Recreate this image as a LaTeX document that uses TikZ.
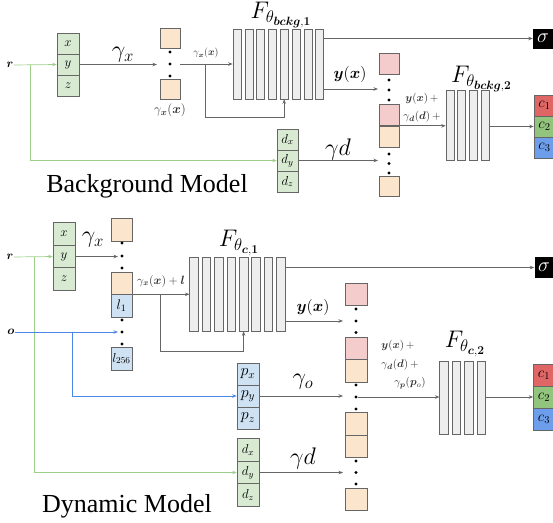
\RequirePackage{fix-cm}
\documentclass[tikz,border=0pt]{standalone}
\usepackage{amsmath}
\usepackage{bm}
\usepackage{fontspec}
\setmainfont{Liberation Serif}
\usetikzlibrary{arrows.meta}
\definecolor{lg}{HTML}{666666}
\definecolor{gfill}{HTML}{D9EAD3}
\definecolor{pfill}{HTML}{FCE5CD}
\definecolor{rfill}{HTML}{F4CCCC}
\definecolor{bfill}{HTML}{CFE2F3}
\definecolor{barfill}{HTML}{EEEEEE}
\definecolor{cred}{HTML}{E06666}
\definecolor{cgreen}{HTML}{93C47D}
\definecolor{cblue}{HTML}{6D9EEB}
\definecolor{gline}{HTML}{9CD08A}
\definecolor{bline}{HTML}{4A86E8}
\newcommand{\fsz}[1]{\fontsize{#1}{#1}\selectfont}
\tikzset{
  cell/.style={draw=lg, line width=0.6pt, inner sep=0pt, minimum width=22pt, minimum height=21pt},
  gcell/.style={cell, fill=gfill, font=\fsz{13}},
  pcell/.style={cell, fill=pfill, minimum width=20pt, minimum height=20pt},
  rcell/.style={cell, fill=rfill, minimum width=20pt, minimum height=21pt},
  bcell/.style={cell, fill=bfill, font=\fsz{14}},
  ccell/.style={cell, font=\fsz{15}, minimum width=21pt},
  bar/.style={draw=lg, line width=0.6pt, fill=barfill, inner sep=0pt, minimum width=8pt},
  blob/.style={circle, fill=black, inner sep=0pt, minimum size=3.4pt},
  arr/.style={draw=lg, line width=0.7pt, -{Stealth[length=4.5pt,width=3.5pt]}},
  garr/.style={arr, draw=gline},
  barr/.style={arr, draw=bline},
  lab/.style={inner sep=0pt},
  biglab/.style={inner sep=0pt, font=\fsz{24}},
  smlab/.style={inner sep=0pt, font=\fsz{11}, text=black!80},
  title/.style={inner sep=0pt, font=\fsz{26}},
}
\begin{document}
\begin{tikzpicture}[x=1pt,y=-1pt]
\useasboundingbox (0,0) rectangle (553,522);
% ================= Background model =================
\node[lab, font=\fsz{12}] (rT) at (10,65) {$\bm r$};
\node[gcell] (xT) at (68,43.5) {$x$};
\node[gcell] (yT) at (68,64.5) {$y$};
\node[gcell] (zT) at (68,85.5) {$z$};
\coordinate (splitT) at (30,64.5);
\coordinate (inT) at (157,64.5);
\node[biglab] (gxlT) at (123,55) {$\gamma_x$};
\node[pcell] (gT1) at (170,38.5) {};
\node[blob] (dTa1) at (170,52) {};
\node[blob] (dTa2) at (170,64) {};
\node[blob] (dTa3) at (170,76) {};
\node[pcell] (gT2) at (170,89) {};
\node[lab, font=\fsz{13}, text=black!80] (gxbT) at (170,110) {$\gamma_{\bm x}(\bm x)$};
\node[smlab, font=\fsz{10}] (sgT) at (206,53) {$\gamma_{\bm x}(\bm x)$};
\foreach \i in {1,...,8}
  \node[bar, minimum height=70pt] (bT\i) at ({237+11.8*(\i-1)},64) {};
\node[lab, font=\fsz{24}] (FT) at (281,15) {$F_{\theta_{\bm{bckg},\bm{1}}}$};
\coordinate (brT) at (205,64);
\coordinate (brT2) at (205,117);
\node[lab, fill=black, text=white, minimum width=20pt, minimum height=20pt, font=\fsz{20}] (sigT) at (543,38.5) {$\sigma$};
\coordinate (yinT) at (378,89);
\node[lab, font=\fsz{16}] (yxT) at (350,74) {$\bm{y}(\bm{x})$};
% right column
\node[rcell] (rT1) at (389,63.5) {};
\node[blob] (dTb1) at (389,80) {};
\node[blob] (dTb2) at (389,90) {};
\node[blob] (dTb3) at (389,100) {};
\node[rcell] (rT2) at (389,115) {};
\node[pcell, minimum height=21pt] (pT3) at (389,136.5) {};
\node[blob] (dTc1) at (389,154) {};
\node[blob] (dTc2) at (389,163.5) {};
\node[blob] (dTc3) at (389,173) {};
\node[pcell] (pT4) at (389,186.5) {};
\node[smlab] (s1T) at (422,99) {$\bm{y}(\bm{x})\,+$};
\node[smlab] (s2T) at (422,117) {$\gamma_{\bm d}(\bm d)\,+$};
\foreach \i in {1,...,4}
  \node[bar, minimum height=70pt] (bF\i) at ({450+11.7*(\i-1)},125) {};
\node[lab, font=\fsz{24}] (F2T) at (481.5,79) {$F_{\theta_{\bm{bckg},\bm{2}}}$};
\node[ccell, fill=cred] (cT1) at (544.5,105.5) {$c_1$};
\node[ccell, fill=cgreen] (cT2) at (544.5,126.5) {$c_2$};
\node[ccell, fill=cblue] (cT3) at (544.5,147.5) {$c_3$};
\node[gcell, minimum width=21pt] (dxT) at (287.5,139.5) {$d_x$};
\node[gcell, minimum width=21pt] (dyT) at (287.5,160.5) {$d_y$};
\node[gcell, minimum width=21pt] (dzT) at (287.5,181.5) {$d_z$};
\coordinate (dinT) at (378,160.5);
\node[biglab] (gdlT) at (338,149) {$\gamma d$};
\node[title] (titT) at (147,186) {Background Model};
% connectors
\draw[garr] (rT.east) -- (yT.west);
\draw[garr] (splitT) |- (dyT.west);
\draw[arr] (yT.east) -- (inT);
\draw[arr] (gT1.east |- dTa2) -- (dTa2 -| bT1.west);
\draw[arr] (brT) -- (brT2) -| (bT5.south);
\draw[arr] (bT8.east |- sigT) -- (sigT.west);
\draw[arr] (bT8.east |- yinT) -- (yinT);
\draw[arr] (rT2.south east) -- (rT2.south east -| bF1.west);
\draw[arr] (bF4.east |- cT2) -- (cT2.west);
\draw[arr] (dyT.east) -- (dinT);
% ================= Dynamic model =================
\node[lab, font=\fsz{12}] (rB) at (10,257) {$\bm r$};
\node[lab, font=\fsz{12}] (oB) at (11,332) {$\bm o$};
\node[gcell, minimum height=22.5pt] (xB) at (64,234) {$x$};
\node[gcell, minimum height=22.5pt] (yB) at (64,256.5) {$y$};
\node[gcell, minimum height=22.5pt] (zB) at (64,279) {$z$};
\coordinate (splitB) at (34,256.5);
\coordinate (splitO) at (72.5,332);
\coordinate (ginB) at (118,256.5);
\coordinate (oinB) at (118,332);
\node[biglab] (gxlB) at (93,240) {$\gamma_x$};
\node[pcell, minimum width=21pt, minimum height=23pt] (pB1) at (121.5,229.5) {};
\node[blob] (dBa1) at (122,243) {};
\node[blob] (dBa2) at (122,256) {};
\node[blob] (dBa3) at (122,268) {};
\node[pcell, minimum width=21pt, minimum height=22pt] (pB2) at (121.5,283) {};
\node[bcell, minimum width=21pt, minimum height=23pt] (lB1) at (121.5,305.5) {$l_1$};
\node[blob] (dBb1) at (122,320) {};
\node[blob] (dBb2) at (122,332) {};
\node[blob] (dBb3) at (122,344) {};
\node[bcell, minimum width=21pt, minimum height=23pt, font=\fsz{13}] (lB2) at (121.5,358.5) {$l_{256}$};
\node[smlab, font=\fsz{12}] (sgB) at (161,281) {$\gamma_{\bm x}(\bm x)+\bm l$};
\foreach \i in {1,...,8}
  \node[bar, minimum width=8.5pt, minimum height=74pt] (bC\i) at ({194+12.4*(\i-1)},294) {};
\node[lab, font=\fsz{24}] (FB) at (239,243) {$F_{\theta_{\bm{c},\bm{1}}}$};
\coordinate (brB) at (160,294);
\coordinate (brB2) at (160,351);
\node[lab, fill=black, text=white, minimum width=19pt, minimum height=21pt, font=\fsz{20}] (sigB) at (544,267.5) {$\sigma$};
\coordinate (yinB) at (343,321);
\node[lab, font=\fsz{16}] (yxB) at (313,307) {$\bm{y}(\bm{x})$};
% right column
\node[rcell, minimum width=22pt, minimum height=22pt] (rB1) at (356,294) {};
\node[blob] (dBc1) at (356,309) {};
\node[blob] (dBc2) at (356,321) {};
\node[blob] (dBc3) at (356,332.5) {};
\node[rcell, minimum width=22pt, minimum height=22pt] (rB2) at (356,348) {};
\node[pcell, minimum width=22pt, minimum height=23pt] (pB3) at (356,370.5) {};
\node[blob] (dBd1) at (356,385) {};
\node[blob] (dBd2) at (356,397) {};
\node[blob] (dBd3) at (356,409) {};
\node[pcell, minimum width=22pt, minimum height=23pt] (pB4) at (356,423.5) {};
\node[pcell, minimum width=22pt, minimum height=22pt] (pB5) at (356,446) {};
\node[blob] (dBe1) at (356,461) {};
\node[blob] (dBe2) at (356,472.5) {};
\node[blob] (dBe3) at (356,484) {};
\node[pcell, minimum width=22pt, minimum height=22pt] (pB6) at (356,499) {};
\node[smlab] (s1B) at (398,346) {$\bm{y}(\bm{x})\,+$};
\node[smlab] (s2B) at (400,365) {$\gamma_{\bm d}(\bm d)\,+$};
\node[smlab] (s3B) at (410,383) {$\gamma_{\bm p}(\bm p_{o})$};
\foreach \i in {1,...,4}
  \node[bar, minimum width=8.5pt, minimum height=73pt] (bD\i) at ({444+12.5*(\i-1)},397.5) {};
\node[lab, font=\fsz{24}] (F2B) at (465,344) {$F_{\theta_{\bm{c},\bm{2}}}$};
\node[ccell, fill=cred, minimum height=22pt] (cB1) at (544,375) {$c_1$};
\node[ccell, fill=cgreen, minimum height=22pt] (cB2) at (544,397) {$c_2$};
\node[ccell, fill=cblue, minimum height=22pt] (cB3) at (544,419) {$c_3$};
\node[bcell, minimum height=22pt, font=\fsz{16}] (pxB) at (248,374) {$p_x$};
\node[bcell, minimum height=22pt, font=\fsz{16}] (pyB) at (248,396) {$p_y$};
\node[bcell, minimum height=22pt, font=\fsz{16}] (pzB) at (248,418) {$p_z$};
\coordinate (pinB) at (343,396);
\node[biglab] (golB) at (303,382) {$\gamma_o$};
\node[gcell, minimum height=22.5pt] (dxB) at (248,450) {$d_x$};
\node[gcell, minimum height=22.5pt] (dyB) at (248,472.5) {$d_y$};
\node[gcell, minimum height=22.5pt] (dzB) at (248,495) {$d_z$};
\coordinate (dinB) at (343,472.5);
\node[biglab] (gdlB) at (303,458) {$\gamma d$};
\node[title] (titB) at (127,506) {Dynamic Model};
% connectors
\draw[garr] (rB.east) -- (yB.west);
\draw[garr] (splitB) |- (dyB.west);
\draw[barr] (oB.east) -- (oinB);
\draw[barr] (splitO) |- (pyB.west);
\draw[arr] (yB.east) -- (ginB);
\draw[arr] (pB2.south east) -- (pB2.south east -| bC1.west);
\draw[arr] (brB) -- (brB2) -| (bC5.south);
\draw[arr] (bC8.east |- sigB) -- (sigB.west);
\draw[arr] (bC8.east |- yinB) -- (yinB);
\draw[arr] (dBd2) -- (dBd2 -| bD1.west);
\draw[arr] (bD4.east |- cB2) -- (cB2.west);
\draw[arr] (pyB.east) -- (pinB);
\draw[arr] (dyB.east) -- (dinB);
\end{tikzpicture}
\end{document}
